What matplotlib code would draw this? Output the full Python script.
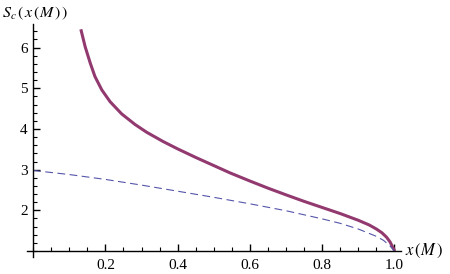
import numpy as np
import matplotlib
matplotlib.use("Agg")
import matplotlib.pyplot as plt
from matplotlib.ticker import MultipleLocator

plt.rcParams['mathtext.fontset'] = 'stix'
plt.rcParams['font.family'] = 'Liberation Serif'

# solid curve
x_solid = [0.132, 0.144, 0.158, 0.171, 0.19, 0.213, 0.245, 0.282, 0.314, 0.36, 0.40, 0.45, 0.50,
           0.545, 0.60, 0.65, 0.70, 0.75, 0.80, 0.85, 0.90, 0.93, 0.95, 0.965, 0.978, 0.988,
           0.994, 0.998, 0.9995, 1.0]
y_solid = [6.45, 6.02, 5.62, 5.29, 4.96, 4.67, 4.37, 4.11, 3.92, 3.69, 3.51, 3.30, 3.10,
           2.92, 2.72, 2.545, 2.38, 2.22, 2.07, 1.92, 1.755, 1.64, 1.54, 1.45, 1.34, 1.22,
           1.11, 1.05, 1.02, 1.0]

# dashed curve
x_dash = [0.0, 0.1, 0.2, 0.3, 0.4, 0.5, 0.6, 0.7, 0.8, 0.85, 0.9, 0.95, 0.97, 0.988, 1.0]
y_dash = [2.98, 2.88, 2.76, 2.62, 2.47, 2.32, 2.16, 1.99, 1.79, 1.68, 1.54, 1.36, 1.26, 1.12, 1.0]

xticks = [0.2, 0.4, 0.6, 0.8, 1.0]
yticks = [2, 3, 4, 5, 6]

fig = plt.figure(figsize=(4.5, 2.74), dpi=100)
ax = fig.add_axes([27/450, 1 - 257/274, (401 - 27)/450, (257 - 24)/274])

ax.plot(x_solid, y_solid, color='#923a70', lw=2.2, solid_capstyle='butt', solid_joinstyle='round')
ax.plot(x_dash, y_dash, color='#5555aa', lw=0.8, dashes=(7, 4))

ax.set_xlim(-0.017, 1.018)
ax.set_ylim(0.853, 6.58)
ax.spines['left'].set_position(('data', 0))
ax.spines['bottom'].set_position(('data', 1))
ax.spines['top'].set_visible(False)
ax.spines['right'].set_visible(False)
for s in ('left', 'bottom'):
    ax.spines[s].set_linewidth(1.0)

ax.set_xticks(xticks)
ax.set_xticklabels(['0.2', '0.4', '0.6', '0.8', '1.0'])
ax.set_yticks(yticks)
ax.xaxis.set_minor_locator(MultipleLocator(0.05))
ax.yaxis.set_minor_locator(MultipleLocator(0.2))
ax.tick_params(which='major', direction='in', length=5, width=1, labelsize=11, pad=4)
ax.tick_params(which='minor', direction='in', length=3, width=0.8)
ax.tick_params(axis='x', which='major', pad=6)

ax.text(-0.085, 6.62, r'$S_c\,(\,x\,(M\,)\,)$', fontsize=11.5, ha='left', va='bottom', transform=ax.transData, clip_on=False)
ax.text(1.03, 1.0, r'$x\,(M\,)$', fontsize=12, ha='left', va='center', transform=ax.transData, clip_on=False)

fig.savefig('out.png', dpi=100)
